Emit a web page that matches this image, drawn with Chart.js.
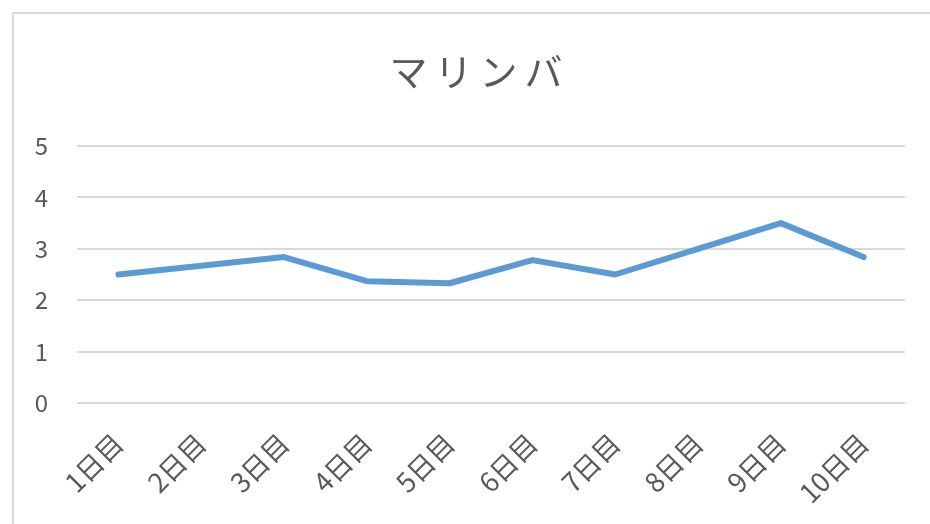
<!DOCTYPE html>
<html>
<head>
<meta charset="utf-8">
<script src="https://cdn.jsdelivr.net/npm/chart.js@4"></script>
<style>
  html, body { margin: 0; padding: 0; background: #fff; overflow: hidden; }
  #frame {
    position: absolute; left: 12px; top: 12px;
    width: 1000px; height: 600px;
    border: 2px solid #d9d9d9;
  }
  #wrap { position: absolute; left: 0; top: 0; width: 930px; height: 524px; }
</style>
</head>
<body>
<div id="frame"></div>
<div id="wrap"><canvas id="chart"></canvas></div>
<script>
const days = ["1日目", "2日目", "3日目", "4日目", "5日目", "6日目", "7日目", "8日目", "9日目", "10日目"];
const marimba = [2.5, 2.67, 2.84, 2.37, 2.33, 2.78, 2.5, 3.0, 3.5, 2.84];
const yTicks = [0, 1, 2, 3, 4, 5];
const titleText = "マリンバ";

const FONT = "'Noto Sans CJK JP', 'Noto Sans', sans-serif";
const GREY = "#595959";

// title drawn by hand so it can get Excel-like letter spacing
const spacedTitle = {
  id: "spacedTitle",
  afterDraw(chart) {
    const ctx = chart.ctx;
    ctx.save();
    ctx.font = "38px " + FONT;
    ctx.fillStyle = GREY;
    ctx.letterSpacing = "7px";
    ctx.textBaseline = "middle";
    ctx.textAlign = "left";
    const w = ctx.measureText(titleText).width - 7;
    ctx.fillText(titleText, 476 - w / 2, 72);
    ctx.restore();
  },
};

new Chart(document.getElementById("chart"), {
  type: "line",
  data: {
    labels: days,
    datasets: [
      {
        label: titleText,
        data: marimba,
        borderColor: "#5b9bd5",
        borderWidth: 6,
        borderCapStyle: "round",
        borderJoinStyle: "round",
        pointRadius: 0,
        tension: 0,
        fill: false,
      },
    ],
  },
  options: {
    responsive: true,
    maintainAspectRatio: false,
    animation: false,
    layout: { padding: { left: 20, right: 25, top: 146, bottom: 0 } },
    plugins: { legend: { display: false }, title: { display: false }, tooltip: { enabled: false } },
    scales: {
      x: {
        offset: true,
        grid: { display: false },
        border: { display: false },
        ticks: {
          color: GREY,
          font: { family: FONT, size: 27 },
          minRotation: 45,
          maxRotation: 45,
          padding: 16,
        },
        afterFit: (s) => { s.height = 121; },
      },
      y: {
        min: 0,
        max: 5,
        afterBuildTicks: (s) => { s.ticks = yTicks.map((v) => ({ value: v })); },
        grid: { color: "#d9d9d9", lineWidth: 2, drawTicks: false },
        border: { display: false },
        ticks: {
          color: GREY,
          font: { family: FONT, size: 24 },
          padding: 29,
        },
        afterFit: (s) => { s.width = 57; },
      },
    },
  },
  plugins: [spacedTitle],
});
</script>
</body>
</html>
